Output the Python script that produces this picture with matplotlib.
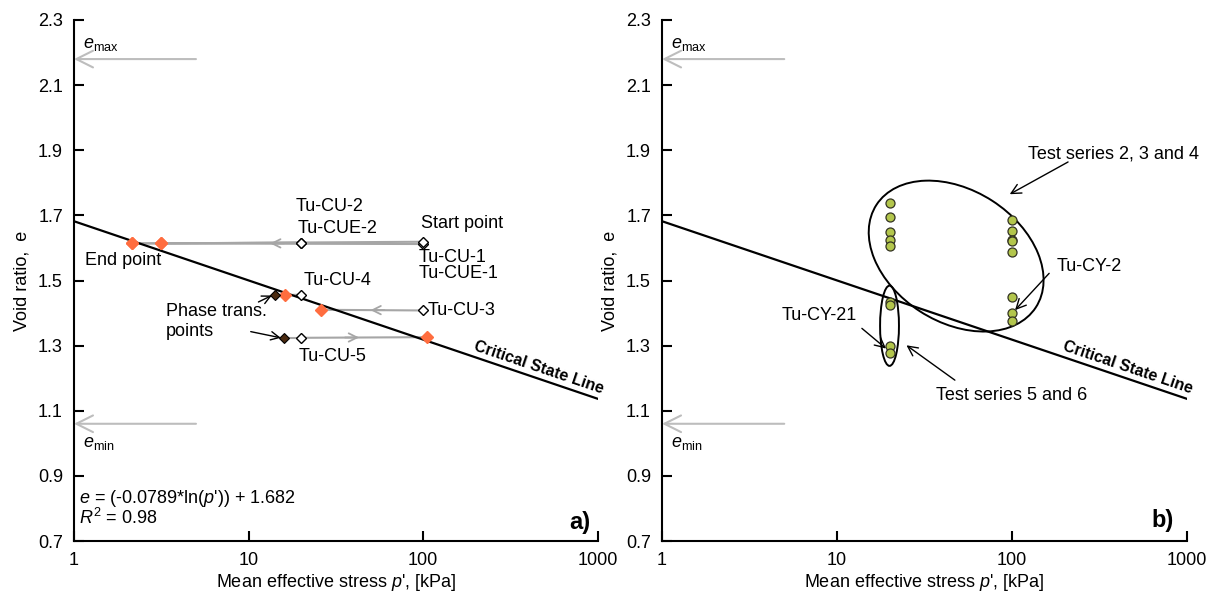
import numpy as np
import matplotlib.pyplot as plt
from matplotlib.patches import Ellipse

plt.rcParams['font.family'] = ['Liberation Sans', 'DejaVu Sans']
plt.rcParams['font.size'] = 13
plt.rcParams['mathtext.fontset'] = 'custom'
plt.rcParams['mathtext.rm'] = 'Liberation Sans'
plt.rcParams['mathtext.it'] = 'Liberation Sans:italic'

# critical state line  e = a*ln(p') + b
csl_a = -0.0789
csl_b = 1.682
csl_p = [1, 1000]
e_max = 2.18
e_min = 1.06

# monotonic tests: start and end of each stress path
cu_names = ['Tu-CU-1', 'Tu-CUE-1', 'Tu-CU-2', 'Tu-CUE-2', 'Tu-CU-3', 'Tu-CU-4', 'Tu-CU-5']
cu_p_start = [100, 100, 20, 20, 100, 20, 20]
cu_e_start = [1.612, 1.619, 1.616, 1.616, 1.408, 1.456, 1.324]
cu_p_end = [2.15, 3.15, 2.15, 3.15, 26.1, 16.2, 106]
cu_e_end = [1.614, 1.614, 1.614, 1.614, 1.410, 1.455, 1.326]

# phase transformation points (Tu-CU-4, Tu-CU-5)
pt_test = [5, 6]
pt_p = [14.1, 16.0]
pt_e = [1.455, 1.324]

# direction arrows on the paths
dir_p = [13.3, 50, 43]
dir_e = [1.614, 1.409, 1.325]
dir_sign = [-1, -1, 1]

# cyclic tests
cy_p = [20, 20, 20, 20, 20, 20, 20, 20, 20,
        100, 100, 100, 100, 100, 100, 100, 100]
cy_e = [1.738, 1.695, 1.650, 1.623, 1.607, 1.435, 1.424, 1.300, 1.277,
        1.687, 1.651, 1.625, 1.620, 1.588, 1.450, 1.400, 1.377]

grey = '#a6a6a6'
orange = '#ff6d3f'
brown = '#4a2a10'
green = '#b3c64c'

fig = plt.figure(figsize=(12.13, 5.97), dpi=100)
ax1 = fig.add_axes([0.0610, 0.0938, 0.4316, 0.8727])
ax2 = fig.add_axes([0.5458, 0.0938, 0.4324, 0.8727])


def csl(p):
    return csl_a * np.log(np.asarray(p, dtype=float)) + csl_b


def setup(ax):
    ax.set_xscale('log')
    ax.set_xlim(1, 1000)
    ax.set_ylim(0.7, 2.3)
    ax.set_xticks([1, 10, 100, 1000])
    ax.set_xticklabels(['1', '10', '100', '1000'])
    ax.minorticks_off()
    ax.set_yticks(np.arange(0.7, 2.31, 0.2))
    ax.set_yticklabels(['%.1f' % v for v in np.arange(0.7, 2.31, 0.2)])
    for s in ['top', 'right']:
        ax.spines[s].set_visible(False)
    for s in ['left', 'bottom']:
        ax.spines[s].set_linewidth(1.5)
    ax.tick_params(direction='in', length=7, width=1.5, pad=8)
    ax.set_xlabel("Mean effective stress $p$', [kPa]", labelpad=2)
    ax.set_ylabel('Void ratio,  e', labelpad=5)

    # critical state line with its label
    ax.plot(csl_p, csl(csl_p), color='k', lw=1.6, zorder=3)
    x0, y0 = ax.transData.transform((csl_p[0], csl(csl_p[0])))
    x1, y1 = ax.transData.transform((csl_p[1], csl(csl_p[1])))
    ang = np.degrees(np.arctan2(y1 - y0, x1 - x0))
    lp = 440
    ax.annotate('Critical State Line', xy=(lp, csl(lp)),
                xytext=(-np.sin(np.radians(ang)) * 2, np.cos(np.radians(ang)) * 2),
                textcoords='offset points', rotation=ang, rotation_mode='anchor',
                ha='center', va='bottom', fontweight='bold', fontsize=11.5)

    # limiting void ratios
    for ev in [e_max, e_min]:
        ax.annotate('', xy=(1, ev), xytext=(5, ev),
                    arrowprops=dict(arrowstyle='->,head_length=1.2,head_width=0.6',
                                    color='#bdbdbd', lw=1.5, mutation_scale=10,
                                    shrinkA=0, shrinkB=0))
    ax.text(1.13, e_max + 0.045, r'$e_{\mathrm{max}}$', fontsize=13, va='center')
    ax.text(1.13, e_min - 0.06, r'$e_{\mathrm{min}}$', fontsize=13, va='center')


setup(ax1)
setup(ax2)

# ---- a) monotonic tests
for i in range(len(cu_names)):
    ps = [cu_p_start[i], cu_p_end[i]]
    es = [cu_e_start[i], cu_e_end[i]]
    ax1.plot(ps, es, color=grey, lw=1.5, zorder=2)
for k, i in enumerate(pt_test):
    ax1.plot([pt_p[k], cu_p_start[i]], [pt_e[k], cu_e_start[i]], color=grey, lw=1.5, zorder=2)
for p, e, s in zip(dir_p, dir_e, dir_sign):
    ax1.annotate('', xy=(p, e), xytext=(p * 10 ** (-0.08 * s), e),
                 arrowprops=dict(arrowstyle='->,head_length=0.6,head_width=0.3',
                                 color=grey, lw=1.3, mutation_scale=10,
                                 shrinkA=0, shrinkB=0))

ax1.plot(cu_p_end, cu_e_end, ls='none', marker='D', ms=6.5, mfc=orange,
         mec=orange, zorder=4)
ax1.plot(pt_p, pt_e, ls='none', marker='D', ms=5.5, mfc=brown, mec='k',
         mew=0.8, zorder=5)
ax1.plot(cu_p_start, cu_e_start, ls='none', marker='D', ms=5, mfc='white',
         mec='k', mew=1.0, zorder=5)

labels_a = [('Tu-CU-2', 18.7, 1.726), ('Tu-CUE-2', 19.0, 1.659),
            ('Start point', 97.7, 1.674), ('Tu-CU-1', 94.8, 1.570),
            ('Tu-CUE-1', 94.8, 1.523), ('End point', 1.156, 1.562),
            ('Tu-CU-4', 20.8, 1.500), ('Tu-CU-3', 106.8, 1.408),
            ('Tu-CU-5', 19.5, 1.268), ('Phase trans.', 3.37, 1.405),
            ('points', 3.37, 1.343)]
for t, p, e in labels_a:
    ax1.text(p, e, t, ha='left', va='center', fontsize=13)

for tail, head in [((11.4, 1.434), (13.6, 1.454)), ((10.3, 1.343), (15.3, 1.324))]:
    ax1.annotate('', xy=head, xytext=tail,
                 arrowprops=dict(arrowstyle='->,head_length=0.6,head_width=0.3',
                                 color='k', lw=1.0, mutation_scale=10,
                                 shrinkA=0, shrinkB=0))

ax1.text(1.075, 0.832, "$e$ = (-0.0789*ln($p$')) + 1.682", fontsize=13, va='center')
ax1.text(1.075, 0.770, '$R^{2}$ = 0.98', fontsize=13, va='center')
ax1.text(0.986, 0.035, 'a)', transform=ax1.transAxes, fontsize=17,
         fontweight='bold', ha='right', va='center')

# ---- b) cyclic tests
ax2.plot(cy_p, cy_e, ls='none', marker='o', ms=6.5, mfc=green, mec='#333322',
         mew=0.9, zorder=5)

to_axes = ax2.transData + ax2.transAxes.inverted()
groups = [((48.1, 1.575), 0.362, 0.253, -33), ((20, 1.361), 0.036, 0.154, 0)]
for c, w, h, a in groups:
    ax2.add_patch(Ellipse(to_axes.transform(c), w, h, angle=a,
                          transform=ax2.transAxes, fill=False, ec='k', lw=1.4,
                          zorder=4))

notes_b = [('Test series 2, 3 and 4', (123.6, 1.890), (210, 1.864), (97.4, 1.765)),
           ('Tu-CY-2', (181.4, 1.544), (163.7, 1.522), (104.5, 1.409)),
           ('Tu-CY-21', (4.85, 1.391), (13.9, 1.353), (19.1, 1.291)),
           ('Test series 5 and 6', (36.8, 1.148), (47.3, 1.194), (25.0, 1.301))]
for t, pos, tail, head in notes_b:
    ax2.text(pos[0], pos[1], t, ha='left', va='center', fontsize=13)
    ax2.annotate('', xy=head, xytext=tail,
                 arrowprops=dict(arrowstyle='->,head_length=0.7,head_width=0.35',
                                 color='k', lw=1.0, mutation_scale=10,
                                 shrinkA=0, shrinkB=0))

ax2.text(0.976, 0.04, 'b)', transform=ax2.transAxes, fontsize=17,
         fontweight='bold', ha='right', va='center')

fig.savefig('out.png', dpi=100)
